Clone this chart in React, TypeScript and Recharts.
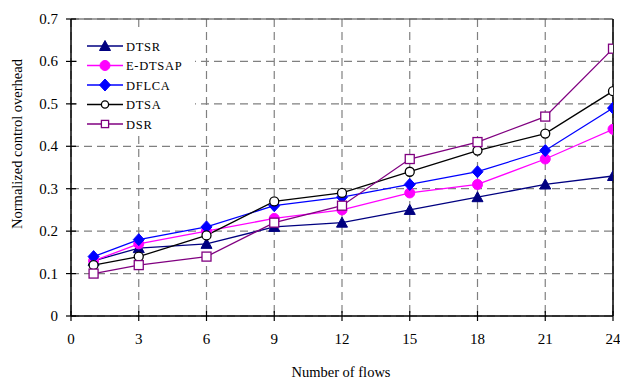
import React from 'react';
import { LineChart, Line, XAxis, YAxis, CartesianGrid, ReferenceLine, Label } from 'recharts';

const flows = [1, 3, 6, 9, 12, 15, 18, 21, 24];
const dtsr = [0.13, 0.16, 0.17, 0.21, 0.22, 0.25, 0.28, 0.31, 0.33];
const edtsap = [0.13, 0.17, 0.20, 0.23, 0.25, 0.29, 0.31, 0.37, 0.44];
const dflca = [0.14, 0.18, 0.21, 0.26, 0.28, 0.31, 0.34, 0.39, 0.49];
const dtsa = [0.12, 0.14, 0.19, 0.27, 0.29, 0.34, 0.39, 0.43, 0.53];
const dsr = [0.10, 0.12, 0.14, 0.22, 0.26, 0.37, 0.41, 0.47, 0.63];
const xTicks = [0, 3, 6, 9, 12, 15, 18, 21, 24];
const yTicks = [0, 0.1, 0.2, 0.3, 0.4, 0.5, 0.6, 0.7];

const data = flows.map((f, i) => ({ x: f, dtsr: dtsr[i], edtsap: edtsap[i], dflca: dflca[i], dtsa: dtsa[i], dsr: dsr[i] }));

type MarkerType = 'triangle' | 'circle' | 'diamond' | 'ocircle' | 'square';

const series: { key: string; name: string; color: string; marker: MarkerType }[] = [
  { key: 'dtsr', name: 'DTSR', color: '#000080', marker: 'triangle' },
  { key: 'edtsap', name: 'E-DTSAP', color: '#FF00FF', marker: 'circle' },
  { key: 'dflca', name: 'DFLCA', color: '#0000FF', marker: 'diamond' },
  { key: 'dtsa', name: 'DTSA', color: '#000000', marker: 'ocircle' },
  { key: 'dsr', name: 'DSR', color: '#800080', marker: 'square' },
];

const FONT = '"Liberation Serif", "Times New Roman", serif';

function marker(type: MarkerType, cx: number, cy: number, color: string, key?: any, s: number = 1) {
  switch (type) {
    case 'triangle':
      return <polygon key={key} points={`${cx},${cy - 5.5 * s} ${cx - 5.5 * s},${cy + 4.5 * s} ${cx + 5.5 * s},${cy + 4.5 * s}`} fill={color} stroke={color} strokeWidth={1} />;
    case 'circle':
      return <circle key={key} cx={cx} cy={cy} r={5 * s} fill={color} stroke={color} />;
    case 'diamond':
      return <polygon key={key} points={`${cx},${cy - 6 * s} ${cx + 5.5 * s},${cy} ${cx},${cy + 6 * s} ${cx - 5.5 * s},${cy}`} fill={color} stroke={color} />;
    case 'ocircle':
      return <circle key={key} cx={cx} cy={cy} r={4.5 * s} fill="#fff" stroke={color} strokeWidth={1.3} />;
    case 'square':
      return <rect key={key} x={cx - 4.5 * s} y={cy - 4.5 * s} width={9 * s} height={9 * s} fill="#fff" stroke={color} strokeWidth={1.3} />;
  }
  return null;
}

const YTick = (props: any) => {
  const { x, y, payload } = props;
  const v = payload.value;
  return (
    <g>
      <line x1={x - 5} x2={x + 5} y1={y} y2={y} stroke="#000" strokeWidth={1.2} />
      <text x={x - 13} y={y} dy={5} textAnchor="end" fontSize={15} fontFamily={FONT} fill="#000">
        {v === 0 ? '0' : v.toFixed(1)}
      </text>
    </g>
  );
};

const XTick = (props: any) => {
  const { x, y, payload } = props;
  return (
    <g>
      <line x1={x} x2={x} y1={y - 5} y2={y + 5} stroke="#000" strokeWidth={1.2} />
      <text x={x} y={y + 28} textAnchor="middle" fontSize={15} fontFamily={FONT} fill="#000">
        {payload.value}
      </text>
    </g>
  );
};

const LegendContent = () => (
  <g transform="translate(80,36)">
    <rect x={-3} y={-8} width={118} height={107} fill="#fff" />
    {series.map((s, i) => {
      const cy = 10 + i * 19.5;
      return (
        <g key={s.key}>
          <line x1={7} x2={43} y1={cy} y2={cy} stroke={s.color} strokeWidth={1.3} />
          {marker(s.marker, 25, cy, s.color, undefined, s.marker === 'ocircle' || s.marker === 'square' ? 0.8 : 1)}
          <text x={46} y={cy} dy={4.5} fontSize={12.5} fontFamily={FONT} fill="#000" letterSpacing={0.7}>
            {s.name}
          </text>
        </g>
      );
    })}
  </g>
);

export default function App() {
  return (
    <div style={{ position: 'absolute', left: 0, top: 0, width: 620, height: 380, background: '#fff' }}>
      <LineChart width={620} height={380} data={data} margin={{ top: 19, right: 7, left: 0, bottom: 0 }}>
        <CartesianGrid stroke="#808080" strokeDasharray="8 5" strokeWidth={1.2} />
        <ReferenceLine y={0.7} stroke="#444" strokeWidth={1.2} />
        <ReferenceLine x={24} stroke="#000" strokeWidth={1.5} />
        <ReferenceLine y={0.7} stroke="none" label={<LegendContent />} />
        <XAxis
          dataKey="x"
          type="number"
          domain={[0, 24]}
          ticks={xTicks}
          interval={0}
          height={64}
          tickSize={0}
          tickMargin={0}
          tickLine={false}
          tick={<XTick />}
          axisLine={{ stroke: '#000', strokeWidth: 1.5 }}
          allowDataOverflow
        >
          <Label
            content={() => (
              <text x={341} y={377} textAnchor="middle" fontSize={14.5} fontFamily={FONT} fill="#000">
                Number of flows
              </text>
            )}
          />
        </XAxis>
        <YAxis
          type="number"
          domain={[0, 0.7]}
          ticks={yTicks}
          interval={0}
          width={71}
          tickSize={0}
          tickMargin={0}
          tickLine={false}
          tick={<YTick />}
          axisLine={{ stroke: '#000', strokeWidth: 1.5 }}
          allowDataOverflow
        >
          <Label
            content={() => (
              <text x={17} y={144} transform="rotate(-90 17 144)" dy={5} textAnchor="middle" fontSize={14.5} fontFamily={FONT} fill="#000">
                Normalized control overhead
              </text>
            )}
          />
        </YAxis>
        {series.map((s) => (
          <Line
            key={s.key}
            dataKey={s.key}
            name={s.name}
            type="linear"
            stroke={s.color}
            strokeWidth={1.3}
            isAnimationActive={false}
            activeDot={false}
            dot={(p: any) => marker(s.marker, p.cx, p.cy, s.color, `${s.key}-${p.index}`)}
          />
        ))}
      </LineChart>
    </div>
  );
}
